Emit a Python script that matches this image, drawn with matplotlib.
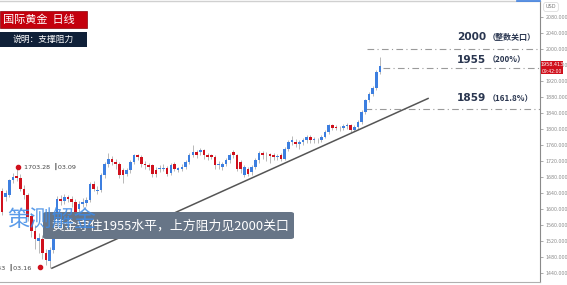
import matplotlib
matplotlib.use("Agg")
import matplotlib.pyplot as plt
from matplotlib.patches import FancyBboxPatch, Rectangle
from matplotlib.lines import Line2D

plt.rcParams['font.family'] = ['Noto Sans CJK SC', 'DejaVu Sans']

# ---------------- data ----------------
opens = [1645, 1630, 1635, 1672, 1683, 1678, 1650, 1634, 1582, 1545,
         1520, 1526, 1489, 1470, 1497, 1555, 1626, 1620, 1630, 1626,
         1618, 1600, 1612, 1615, 1622, 1663, 1645, 1648, 1684, 1713,
         1726, 1718, 1713, 1697, 1688, 1697, 1718, 1734, 1730, 1713,
         1709, 1709, 1697, 1700, 1700, 1703, 1690, 1713, 1698, 1700,
         1705, 1717, 1734, 1742, 1742, 1747, 1734, 1734, 1730, 1709,
         1705, 1713, 1722, 1742, 1734, 1717, 1685, 1701, 1692, 1705,
         1722, 1740, 1734, 1737, 1734, 1730, 1736, 1726, 1751, 1767,
         1767, 1763, 1767, 1771, 1780, 1771, 1773, 1771, 1780, 1792,
         1809, 1805, 1803, 1803, 1806, 1809, 1797, 1805, 1817, 1842,
         1871, 1888, 1903, 1942]
closes = [1592, 1640, 1672, 1680, 1678, 1650, 1634, 1580, 1545, 1526,
          1528, 1489, 1472, 1497, 1555, 1626, 1620, 1630, 1626, 1618,
          1590, 1612, 1618, 1622, 1663, 1650, 1648, 1684, 1713, 1726,
          1718, 1713, 1684, 1684, 1697, 1718, 1734, 1730, 1713, 1709,
          1705, 1688, 1688, 1702, 1703, 1688, 1710, 1700, 1702, 1705,
          1717, 1734, 1742, 1734, 1747, 1734, 1730, 1730, 1709, 1713,
          1713, 1722, 1734, 1734, 1701, 1701, 1705, 1688, 1705, 1722,
          1740, 1734, 1736, 1733, 1730, 1732, 1726, 1751, 1767, 1771,
          1763, 1767, 1771, 1780, 1771, 1775, 1772, 1780, 1792, 1809,
          1801, 1801, 1801, 1806, 1809, 1797, 1805, 1817, 1842, 1871,
          1888, 1903, 1942, 1958]
highs = [1652, 1648, 1676, 1690, 1703, 1688, 1660, 1640, 1590, 1560,
         1540, 1535, 1500, 1505, 1560, 1632, 1636, 1637, 1636, 1632,
         1625, 1620, 1628, 1630, 1668, 1670, 1658, 1690, 1718, 1740,
         1732, 1725, 1718, 1702, 1703, 1722, 1738, 1738, 1734, 1720,
         1715, 1712, 1705, 1710, 1712, 1708, 1715, 1718, 1706, 1712,
         1722, 1740, 1760, 1748, 1752, 1750, 1740, 1738, 1735, 1720,
         1718, 1728, 1740, 1748, 1738, 1722, 1710, 1706, 1710, 1728,
         1745, 1744, 1742, 1741, 1740, 1738, 1740, 1756, 1772, 1782,
         1775, 1772, 1776, 1785, 1784, 1780, 1778, 1784, 1796, 1813,
         1813, 1810, 1808, 1812, 1815, 1812, 1810, 1821, 1846, 1875,
         1893, 1908, 1946, 1980]
lows = [1585, 1620, 1630, 1665, 1670, 1645, 1625, 1570, 1530, 1500,
        1490, 1475, 1460, 1452, 1490, 1550, 1610, 1612, 1618, 1605,
        1580, 1592, 1605, 1608, 1618, 1645, 1638, 1642, 1678, 1705,
        1710, 1700, 1678, 1665, 1682, 1690, 1712, 1722, 1705, 1700,
        1698, 1680, 1680, 1692, 1694, 1682, 1685, 1694, 1692, 1695,
        1700, 1712, 1730, 1728, 1736, 1725, 1722, 1724, 1700, 1700,
        1698, 1708, 1716, 1728, 1695, 1690, 1680, 1682, 1686, 1700,
        1716, 1726, 1720, 1715, 1722, 1722, 1720, 1722, 1745, 1760,
        1755, 1750, 1760, 1765, 1764, 1766, 1766, 1768, 1776, 1788,
        1796, 1796, 1795, 1798, 1800, 1793, 1794, 1800, 1813, 1838,
        1866, 1882, 1898, 1936]

ytick_vals = [1440, 1480, 1520, 1560, 1600, 1640, 1680, 1720, 1760,
              1800, 1840, 1880, 1920, 1960, 2000, 2040, 2080]
level_prices = [2000, 1953, 1849]
level_labels = ["2000", "1955", "1859"]
level_notes = ["（整数关口）", "（200%）", "（161.8%）"]
trend_x = [13.6, 116.1]
trend_y = [1452, 1876]
high_mark = (4, 1703.28, "1703.28  ┃03.09")
low_mark = (13, 1451.43, "1451.43  ┃03.16")
last_price = "1958.413"
countdown = "09:42:00"
title_main = "国际黄金  日线"
title_sub = "说明：支撑阻力"
caption = "黄金守住1955水平，上方阻力见2000关口"
watermark = "策测解金"

# ---------------- figure ----------------
W, H = 567, 285
fig = plt.figure(figsize=(W / 100, H / 100), dpi=100)
ax = fig.add_axes([0, 3 / H, 540 / W, 281 / H])

UP = "#3d7fe0"
DOWN = "#d0101c"
n = len(opens)
xs = list(range(n))
cols = [UP if c >= o else DOWN for o, c in zip(opens, closes)]
ax.vlines(xs, lows, highs, color="#b8b8b8", lw=0.7, zorder=2)
heights = [max(abs(c - o), 1.2) for o, c in zip(opens, closes)]
bottoms = [min(o, c) for o, c in zip(opens, closes)]
ax.bar(xs, heights, bottom=bottoms, width=0.72, color=cols, linewidth=0, zorder=3)

ax.set_xlim(-0.55, 146.6)
ax.set_ylim(1417.5, 2119.5)

# trend line
ax.plot(trend_x, trend_y, color="#555555", lw=1.1, zorder=4)

# horizontal levels
starts = [99.4, 103.8, 98.9]
for p, s in zip(level_prices, starts):
    ax.plot([s, 146.6], [p, p], color="#9a9a9a", lw=0.8, ls=(0, (6, 3, 1, 3)), zorder=1)

label_y = [2029, 1972, 1876]
for lab, note, ly in zip(level_labels, level_notes, label_y):
    t = ax.text(124, ly, lab, fontsize=7.6, color="#2a3650", fontweight="bold",
                family=['DejaVu Sans'], va="center", ha="left")
    ax.annotate(note, xy=(1, 0.5), xycoords=t, xytext=(1, 0), textcoords="offset points",
                fontsize=5.8, color="#2a3650", fontweight="bold", va="center", ha="left")

# high / low markers
ax.scatter([high_mark[0] + 0.3], [1706], s=9, color=DOWN, zorder=6)
ax.text(high_mark[0] + 1.9, 1706, high_mark[2], fontsize=4.6, color="#444444",
        va="center", ha="left", family=['DejaVu Sans'])
ax.scatter([10.3], [1454], s=9, color=DOWN, zorder=6)
ax.text(8.0, 1454, low_mark[2], fontsize=4.6, color="#444444",
        va="center", ha="right", family=['DejaVu Sans'])

# axes styling
ax.spines["left"].set_visible(False)
ax.spines["right"].set_color("#8a8a8a")
ax.spines["right"].set_linewidth(0.8)
ax.spines["bottom"].set_color("#b0b0b0")
ax.spines["top"].set_color("#d0d0d0")
ax.spines["top"].set_linewidth(1.0)
ax.set_xticks([])
ax.yaxis.tick_right()
ax.set_yticks(ytick_vals)
ax.set_yticklabels([f"{v}.000" for v in ytick_vals], fontsize=3.4, color="#8a8a8a",
                   family=['DejaVu Sans'])
ax.tick_params(axis="y", length=2, width=0.5, color="#8a8a8a", pad=2)

# caption box
box = FancyBboxPatch((43 / W, 1 - 239 / H), (294 - 43) / W, 27 / H,
                     boxstyle="round,pad=0,rounding_size=0.006", transform=fig.transFigure,
                     facecolor="#677587", edgecolor="none", zorder=10)
fig.patches.append(box)
fig.text(51 / W, 1 - 226 / H, caption, fontsize=9.3, color="white", va="center", ha="left",
         zorder=11)
fig.text(7 / W, 1 - 219 / H, watermark, fontsize=16, color="#3d8ae6", alpha=0.85,
         va="center", ha="left", zorder=12)

# title boxes
fig.patches.append(Rectangle((0, 1 - 28 / H), 87 / W, 17 / H, transform=fig.transFigure,
                             facecolor="#c4000d", edgecolor="#8a0008", lw=0.5, zorder=10))
fig.text(3 / W, 1 - 19.5 / H, title_main, fontsize=8, color="white", va="center", ha="left",
         zorder=11)
fig.patches.append(Rectangle((0, 1 - 47 / H), 87 / W, 15 / H, transform=fig.transFigure,
                             facecolor="#0f2038", edgecolor="none", zorder=10))
fig.text(43 / W, 1 - 39.5 / H, title_sub, fontsize=6.3, color="white", va="center",
         ha="center", zorder=11)

# price tag
fig.patches.append(Rectangle((541 / W, 1 - 67.5 / H), 22 / W, 6.5 / H, transform=fig.transFigure,
                             facecolor="#d0101c", edgecolor="none", zorder=10))
fig.patches.append(Rectangle((541 / W, 1 - 74.5 / H), 22 / W, 6.5 / H, transform=fig.transFigure,
                             facecolor="#d0101c", edgecolor="none", zorder=10))
fig.text(552 / W, 1 - 64.3 / H, last_price, fontsize=3.5, color="white", ha="center",
         va="center", family=['DejaVu Sans'], zorder=11)
fig.text(552 / W, 1 - 71.3 / H, countdown, fontsize=3.3, color="white", ha="center",
         va="center", family=['DejaVu Sans'], zorder=11)
fig.text(551 / W, 1 - 7 / H, "USD", fontsize=3.6, color="#777777", ha="center", va="center",
         family=['DejaVu Sans'],
         bbox=dict(boxstyle="round,pad=0.4", facecolor="white", edgecolor="#cccccc", lw=0.4))
fig.lines.append(Line2D([517 / W, 540 / W], [1 - 0.8 / H, 1 - 0.8 / H], transform=fig.transFigure,
                        color="#3d7fe0", lw=1.2))

fig.savefig("out.png", dpi=100)
